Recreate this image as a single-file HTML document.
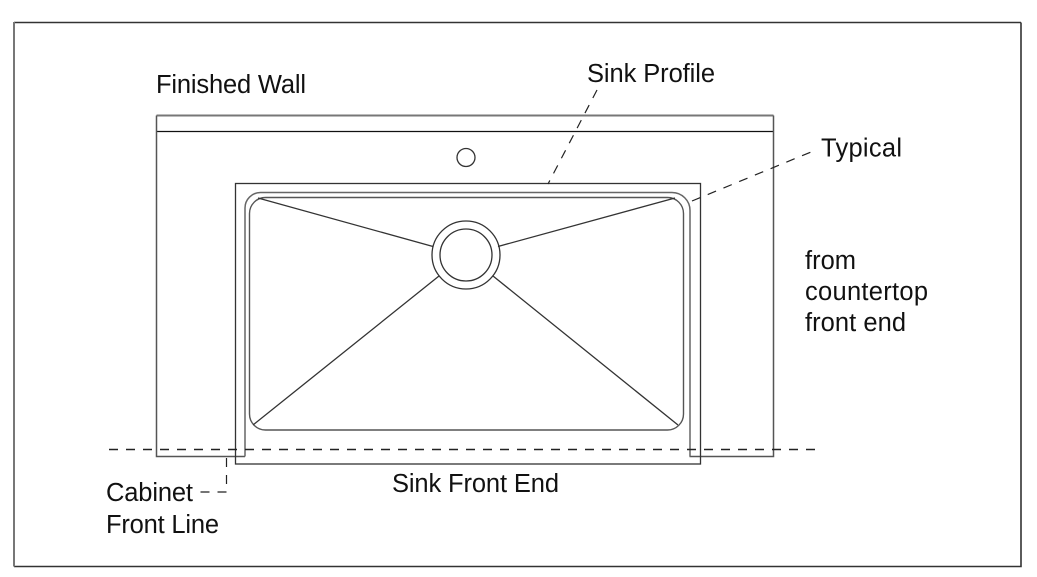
<!DOCTYPE html>
<html>
<head>
<meta charset="utf-8">
<style>
html,body{margin:0;padding:0;background:#fff;width:1037px;height:577px;overflow:hidden}
svg{display:block}
text{font-family:"Liberation Sans",sans-serif;font-size:25.5px;fill:#111}
</style>
</head>
<body>
<svg width="1037" height="577" viewBox="0 0 1037 577" xmlns="http://www.w3.org/2000/svg">
<rect width="1037" height="577" fill="#fff"/>
<g fill="none" stroke="#333" stroke-width="1.3">
  <!-- frame -->
  <path d="M14 22.5H1021" stroke="#333" stroke-width="1.5"/>
  <path d="M1021 22.5V566.5H14" stroke="#333" stroke-width="1.6"/>
  <path d="M14 22V566.5" stroke="#777" stroke-width="2"/>
  <!-- counter -->
  <path d="M156.5 131.5H773.5" stroke="#111"/>
  <path d="M156.5 115.5H773.5" stroke="#777" stroke-width="2"/>
  <path d="M245 456.5H156.5V115.5M773.5 115.5V456.5H689.5" stroke="#555" stroke-width="1.5"/>
  <!-- sink -->
  <rect x="235.5" y="183.5" width="465" height="280.5"/>
  <!-- rim -->
  <path d="M245 456.5V208a15.5 15.5 0 0 1 15.5-15.5H672a18 18 0 0 1 18 18V456.5" stroke="#666" stroke-width="1.5"/>
  <!-- basin -->
  <rect x="249.5" y="197.5" width="434" height="232.5" rx="16" ry="16" stroke="#555" stroke-width="1.4"/>
  <!-- holes -->
  <circle cx="466" cy="157.5" r="9"/>
  <circle cx="466" cy="255" r="34"/>
  <circle cx="466" cy="255" r="26"/>
  <!-- diagonals -->
  <path d="M258 198L433 246.5M498 246.5L675 198M253 425L439 276M493 276L678 425"/>
</g>
<g fill="none" stroke="#222" stroke-width="1.2" stroke-dasharray="9 8">
  <path d="M109 449.5H816" stroke-width="1.4"/>
  <path d="M692 201L811 152"/>
  <path d="M597 90L548 184"/>
  <path d="M226.5 458V492H200"/>
</g>
<text x="156" y="93" textLength="150" lengthAdjust="spacing">Finished Wall</text>
<text x="587" y="82" textLength="128" lengthAdjust="spacing">Sink Profile</text>
<text x="821" y="156.5" textLength="81" lengthAdjust="spacing">Typical</text>
<text x="805" y="269" textLength="51" lengthAdjust="spacing">from</text>
<text x="805" y="300" textLength="123" lengthAdjust="spacing">countertop</text>
<text x="805" y="331" textLength="101" lengthAdjust="spacing">front end</text>
<text x="392" y="492" textLength="167" lengthAdjust="spacing">Sink Front End</text>
<text x="106" y="501" textLength="87" lengthAdjust="spacing">Cabinet</text>
<text x="106" y="533" textLength="113" lengthAdjust="spacing">Front Line</text>
</svg>
</body>
</html>
